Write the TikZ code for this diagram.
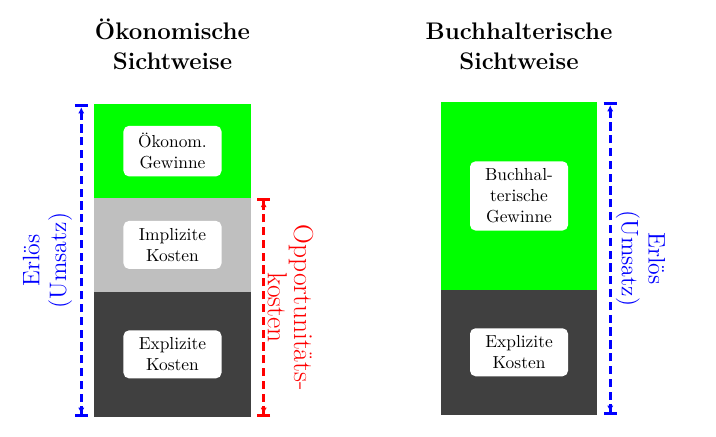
\documentclass[tikz,border=0pt]{standalone}
\usepackage{xcolor}
\usepackage{tikz}
\usetikzlibrary{positioning, arrows.meta}
\usetikzlibrary{calc}

\begin{document}
\begin{tikzpicture}[
        segment/.style={rectangle, minimum width=3cm, inner sep=0pt, outer sep=0pt},
        tag/.style={rectangle, rounded corners=3pt, fill=white, text width=1.6cm, align=center, inner sep=4pt, font=\fontsize{9.5}{11.5}\selectfont},
        heading/.style={align=center, inner sep=0pt, font=\fontsize{13.1}{16}\selectfont\bfseries},
        span/.style={ultra thick, dash pattern=on 4.5pt off 2.5pt, {Bar[width=0.25cm]Latex[length=1.2mm, width=1.2mm]}-{Latex[length=1.2mm, width=1.2mm]Bar[width=0.25cm]}},
        erloes/.style={rotate=#1, anchor=south, align=center, font=\fontsize{13}{14.6}\selectfont}
    ]
    \useasboundingbox (-1.81,-0.384) rectangle (11.93,8.0);

        % ===== Ökonomische Sichtweise =====
        \node (oekoDark) [segment, minimum height=2.4cm, fill=black!75, anchor=south west] at (0,0) {};
        \node (oekoGray) [segment, minimum height=1.8cm, fill=black!25, above=0cm of oekoDark] {};
        \node (oekoGreen) [segment, minimum height=1.8cm, fill=green, above=0cm of oekoGray] {};
        \node (oekoExpl) [tag] at (oekoDark) {Explizite\\Kosten};
        \node (oekoImpl) [tag] at (oekoGray) {Implizite\\Kosten};
        \node (oekoGewinn) [tag] at (oekoGreen) {Ökonom.\\Gewinne};
        \node (oekoTitle) [heading, above=0.66cm of oekoGreen] {Ökonomische\\Sichtweise};

        % ===== Buchhalterische Sichtweise =====
        \node (buchDark) [segment, minimum height=2.4cm, fill=black!75, anchor=south west] at (6.65,0.04) {};
        \node (buchGreen) [segment, minimum height=3.6cm, fill=green, above=0cm of buchDark] {};
        \node (buchExpl) [tag] at (buchDark) {Explizite\\Kosten};
        \node (buchGewinn) [tag] at (buchGreen) {Buchhal-\\terische\\Gewinne};
        \node (buchTitle) [heading, above=0.62cm of buchGreen] {Buchhalterische\\Sichtweise};

        % ===== Maßpfeile =====
        \coordinate (erloesTopL) at ([xshift=-0.25cm]oekoGreen.north west);
        \coordinate (erloesBotL) at ([xshift=-0.25cm]oekoDark.south west);
        \coordinate (oppTop) at ([xshift=0.25cm]oekoGray.north east);
        \coordinate (oppBot) at ([xshift=0.25cm]oekoDark.south east);
        \coordinate (erloesTopR) at ([xshift=0.25cm]buchGreen.north east);
        \coordinate (erloesBotR) at ([xshift=0.25cm]buchDark.south east);

        \draw [span, blue] (erloesBotL) -- (erloesTopL) node (erloesL) [midway, erloes=90, inner sep=0.15cm] {Erlös\\(Umsatz)};
        \draw [span, red] (oppBot) -- (oppTop) node (oppLabel) [midway, rotate=-90, anchor=south, align=center, font=\fontsize{15}{10}\selectfont, inner sep=0.05cm] {Opportunitäts-\\kosten};
        \draw [span, blue] (erloesBotR) -- (erloesTopR) node (erloesR) [midway, erloes=-90, inner sep=0.08cm] {Erlös\\(Umsatz)};

    \end{tikzpicture}
\end{document}
